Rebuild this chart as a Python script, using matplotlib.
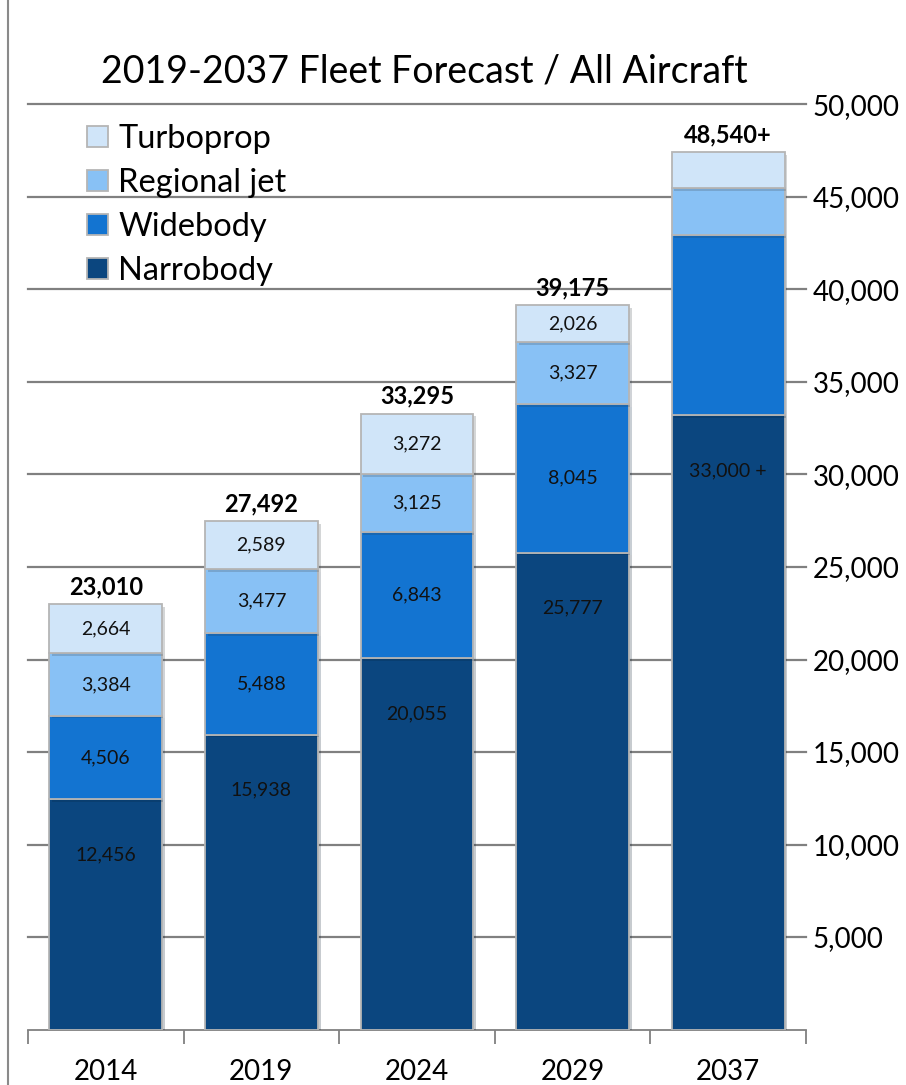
import matplotlib
matplotlib.use("Agg")
import matplotlib.pyplot as plt
import matplotlib.patheffects as pe
from matplotlib.lines import Line2D
import numpy as np

plt.rcParams['font.family'] = ['Lato', 'DejaVu Sans']

years = ["2014", "2019", "2024", "2029", "2037"]
series = ["Narrobody", "Widebody", "Regional jet", "Turboprop"]
narrobody = [12456, 15938, 20055, 25777, 33200]
widebody = [4506, 5488, 6843, 8045, 9750]
regional = [3384, 3477, 3125, 3327, 2540]
turboprop = [2664, 2589, 3272, 2026, 1950]
narrobody_labels = ["12,456", "15,938", "20,055", "25,777", "33,000 +"]
widebody_labels = ["4,506", "5,488", "6,843", "8,045", ""]
regional_labels = ["3,384", "3,477", "3,125", "3,327", ""]
turboprop_labels = ["2,664", "2,589", "3,272", "2,026", ""]
total_labels = ["23,010", "27,492", "33,295", "39,175", "48,540+"]
yticks = [5000, 10000, 15000, 20000, 25000, 30000, 35000, 40000, 45000, 50000]

colors = ["#0b467f", "#1374d1", "#88c1f5", "#d0e5f9"]

W, H = 906, 1085
fig = plt.figure(figsize=(W / 100, H / 100), dpi=100)
ax = fig.add_axes([28 / W, 1 - 1029.5 / H, (806 - 28) / W, (1029.5 - 104.5) / H])

x = np.arange(len(years))
data = [narrobody, widebody, regional, turboprop]
labels = [narrobody_labels, widebody_labels, regional_labels, turboprop_labels]
bottom = np.zeros(len(years))
shadow = [pe.SimplePatchShadow(offset=(2, -2), alpha=0.22), pe.Normal()]
for vals, lab, col, name in zip(data, labels, colors, series):
    vals = np.array(vals, dtype=float)
    ax.bar(x, vals, bottom=bottom, width=0.726, color=col,
           edgecolor="#b5b5b5", linewidth=1.3, label=name, zorder=3,
           path_effects=shadow)
    for xi, b, v, t in zip(x, bottom, vals, lab):
        if not t:
            continue
        if name == "Narrobody":
            ax.annotate(t, (xi, b + v), xytext=(0, -40), textcoords="offset points",
                        ha="center", va="center", fontsize=14, color="#111111", zorder=5)
        else:
            ax.text(xi, b + v / 2, t, ha="center", va="center", fontsize=14,
                    color="#111111", zorder=5)
    bottom = bottom + vals

for xi, top, t in zip(x, bottom, total_labels):
    ax.annotate(t, (xi, top), xytext=(0, 7), textcoords="offset points",
                ha="center", va="baseline", fontsize=17, fontweight="bold", zorder=5)

ax.set_xlim(-0.5, len(years) - 0.5)
ax.set_ylim(0, 50000)
ax.set_yticks(yticks)
ax.set_yticklabels([f"{v:,}" for v in yticks], fontsize=20)
ax.yaxis.tick_right()
ax.tick_params(axis="y", length=0, pad=5)
ax.yaxis.grid(True, color="#808080", linewidth=1.6, zorder=0)
for gl in ax.get_ygridlines():
    gl.set_clip_on(False)
ax.set_axisbelow(True)

ax.set_xticks(x)
ax.set_xticklabels(years, fontsize=20)
ax.set_xticks(np.arange(-0.5, len(years)), minor=True)
ax.tick_params(axis="x", which="major", length=0, pad=21)
ax.tick_params(axis="x", which="minor", length=10, width=1.3, color="#808080")
for s in ["top", "left", "right"]:
    ax.spines[s].set_visible(False)
ax.spines["bottom"].set_color("#808080")
ax.spines["bottom"].set_linewidth(1.3)

handles, labs = ax.get_legend_handles_labels()
leg = ax.legend(handles[::-1], labs[::-1], loc="upper left",
                bbox_to_anchor=(87 / W, 1 - 124 / H), bbox_transform=fig.transFigure,
                frameon=False, fontsize=23.5, handlelength=0.64, handleheight=0.64,
                handletextpad=0.31, labelspacing=0.43, borderpad=0, borderaxespad=0)
for h in leg.legend_handles:
    h.set_path_effects([])

fig.text(424 / W, 1 - 83 / H, "2019-2037 Fleet Forecast / All Aircraft",
         ha="center", va="baseline", fontsize=27)

fig.add_artist(Line2D([8 / W, 8 / W], [0, 1], color="#8a8a8a", linewidth=1.5,
                      transform=fig.transFigure))

fig.savefig("out.png", dpi=100)
